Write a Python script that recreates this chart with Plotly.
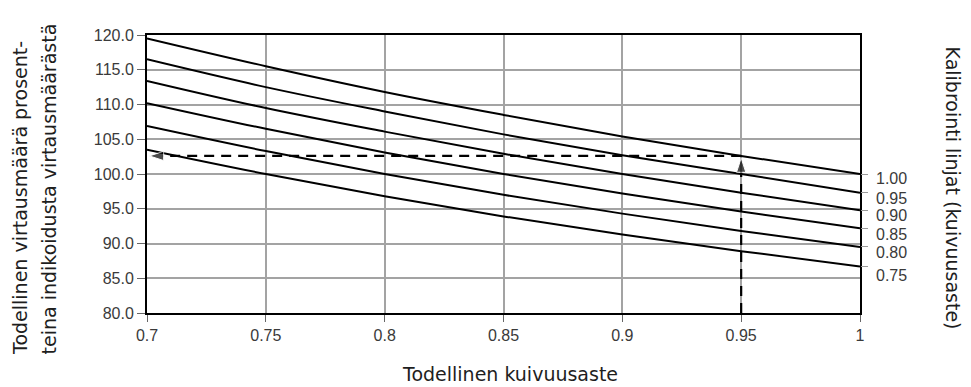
import plotly.graph_objects as go

# Data
x_vals = [0.70, 0.75, 0.80, 0.85, 0.90, 0.95, 1.00]
cal_labels = ["1.00", "0.95", "0.90", "0.85", "0.80", "0.75"]
line_100 = [119.5, 115.5, 111.8, 108.5, 105.4, 102.6, 100.0]
line_095 = [116.5, 112.5, 109.0, 105.7, 102.7, 100.0, 97.3]
line_090 = [113.4, 109.5, 106.1, 102.9, 100.0, 97.3, 94.8]
line_085 = [110.2, 106.5, 103.1, 100.0, 97.2, 94.6, 92.2]
line_080 = [106.9, 103.3, 100.0, 97.0, 94.3, 91.8, 89.5]
line_075 = [103.5, 100.0, 96.8, 93.9, 91.3, 88.9, 86.7]
series = [line_100, line_095, line_090, line_085, line_080, line_075]
label_y = [99.3, 96.5, 94.0, 91.3, 88.7, 85.4]

# Example reading (dashed arrows)
ex_vert_x = [0.95, 0.95]
ex_vert_y = [80.0, 102.3]
ex_horz_x = [0.95, 0.701]
ex_horz_y = [102.6, 102.6]

x_ticks = [0.7, 0.75, 0.8, 0.85, 0.9, 0.95, 1.0]
x_ticktext = ["0.7", "0.75", "0.8", "0.85", "0.9", "0.95", "1"]
y_ticks = [80, 85, 90, 95, 100, 105, 110, 115, 120]

tick_font = dict(family="Liberation Sans Narrow, Arial Narrow, sans-serif", size=16, color="#3a3a3a")
title_font = dict(family="DejaVu Sans, Open Sans, sans-serif", size=19, color="#1e1e1e")

# page is offset 8px by the browser's body margin
W, H = 963, 379
ML, MR, MT, MB = 139, 111, 27, 74
PW = W - ML - MR
PH = H - MT - MB


def px(xpage):
    return (xpage - 8 - ML) / PW


def py(ypage):
    return (MT + PH - (ypage - 8)) / PH


fig = go.Figure()
for s in series:
    fig.add_trace(go.Scatter(x=x_vals, y=s, mode="lines", line=dict(color="black", width=2),
                             line_shape="spline", showlegend=False, hoverinfo="skip"))

for xs, ys in [(ex_vert_x, ex_vert_y), (ex_horz_x, ex_horz_y)]:
    fig.add_trace(go.Scatter(x=xs, y=ys, mode="lines+markers",
                             line=dict(color="black", width=2.2, dash="10px,7px"),
                             marker=dict(symbol=["line-ew", "arrow"], size=[0, 15], angleref="previous",
                                         color="black"),
                             showlegend=False, hoverinfo="skip"))

# invisible trace for right axis ticks at line ends
fig.add_trace(go.Scatter(x=[1.0] * len(series), y=[s[-1] for s in series], yaxis="y2",
                         mode="markers", marker=dict(opacity=0), showlegend=False, hoverinfo="skip"))

for lab, ly in zip(cal_labels, label_y):
    fig.add_annotation(x=1.0, xref="paper", y=ly, yref="y", text=lab, showarrow=False,
                       xanchor="left", xshift=14, font=tick_font)

fig.update_layout(
    width=W, height=H,
    margin=dict(l=ML, r=MR, t=MT, b=MB, autoexpand=False),
    paper_bgcolor="white", plot_bgcolor="white",
    xaxis=dict(range=[0.7, 1.0], tickvals=x_ticks, ticktext=x_ticktext, showgrid=True,
               gridcolor="#a3a3a3", gridwidth=1.5, zeroline=False, showline=True, linecolor="black",
               linewidth=2, mirror=True, ticks="outside", ticklen=7, tickcolor="#666",
               tickfont=tick_font),
    yaxis=dict(range=[80, 120], tickvals=y_ticks, tickformat=".1f", showgrid=True,
               gridcolor="#a3a3a3", gridwidth=1.5, zeroline=False, showline=True, linecolor="black",
               linewidth=2, mirror=True, ticks="outside", ticklen=8, tickcolor="#666",
               tickfont=tick_font),
    yaxis2=dict(range=[80, 120], overlaying="y", side="right", tickvals=[s[-1] for s in series],
                showticklabels=False, ticks="outside", ticklen=7, tickcolor="#999", showgrid=False,
                zeroline=False, showline=False),
)

# Left axis title (two rotated lines, starting at the bottom)
fig.add_annotation(xref="paper", yref="paper", x=px(20), y=py(357),
                   xanchor="center", yanchor="bottom", text="Todellinen virtausmäärä prosent-",
                   textangle=-90, showarrow=False, font=title_font)
fig.add_annotation(xref="paper", yref="paper", x=px(48), y=py(357),
                   xanchor="center", yanchor="bottom", text="teina indikoidusta virtausmäärästä",
                   textangle=-90, showarrow=False, font=title_font)
# Right title
fig.add_annotation(xref="paper", yref="paper", x=px(953), y=py(45),
                   xanchor="center", yanchor="top", text="Kalibrointi linjat (kuivuusaste)",
                   textangle=90, showarrow=False, font=dict(title_font, size=19))
# Bottom title
fig.add_annotation(xref="paper", yref="paper", x=px(510), y=py(387),
                   xanchor="center", yanchor="bottom", text="Todellinen kuivuusaste",
                   showarrow=False, font=title_font)

fig.write_html("out.html")
